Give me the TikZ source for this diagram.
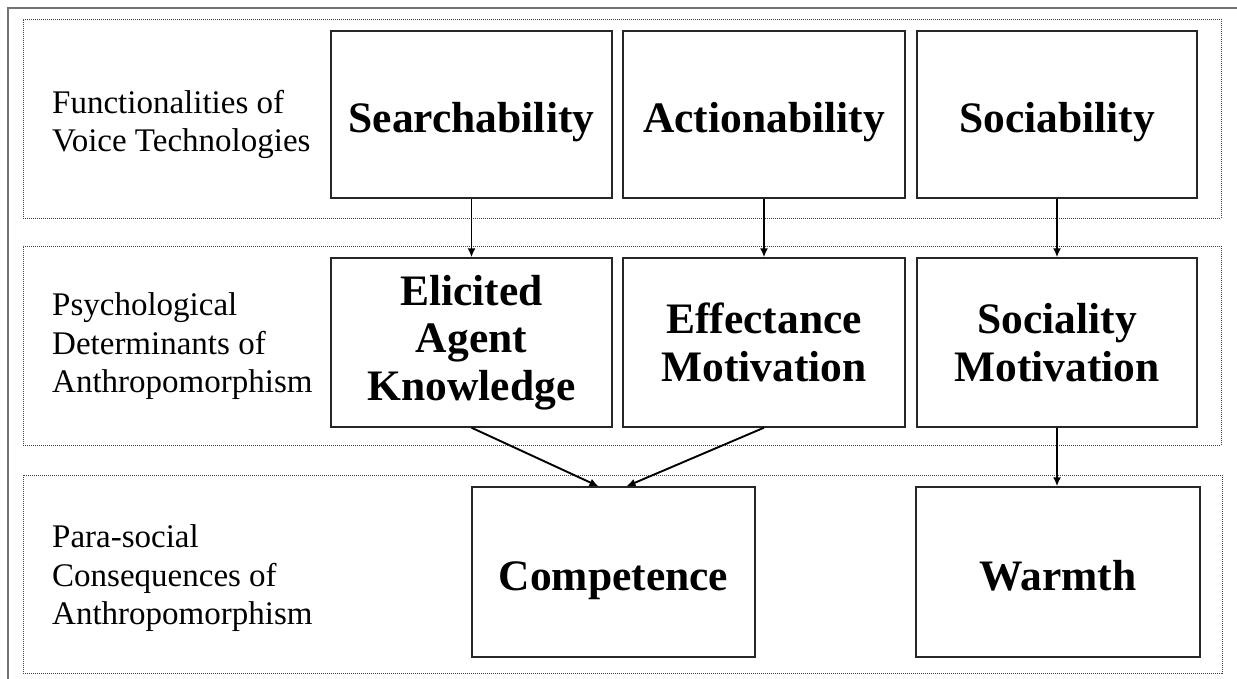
\documentclass[tikz,border=0pt]{standalone}
\usepackage{fontspec}
\setmainfont{Liberation Serif}
\usetikzlibrary{arrows.meta}
\tikzset{
  box/.style={draw=black!85, line width=1.4pt, rectangle, inner sep=2pt, align=center,
    font=\fontsize{43.5}{47.5}\selectfont\bfseries},
  onebox/.style={box, text height=40pt, text depth=4pt},
  frame/.style={draw=black!75, line width=0.8pt, dash pattern=on 1pt off 1pt, rectangle, inner sep=0pt},
  rowlabel/.style={anchor=west, align=left, inner sep=0pt, font=\fontsize{33}{38.5}\selectfont},
  arr/.style={-{Latex[length=9pt,width=8pt]}, line width=1.9pt, black},
  outer/.style={draw=black!55, line width=1.5pt}
}
\begin{document}
\begin{tikzpicture}[x=1pt,y=-1pt]
\useasboundingbox (0,0) rectangle (1237,679);
% outer border
\coordinate (ob1) at (8,679);
\coordinate (ob2) at (8,8);
\coordinate (ob3) at (1237,8);
\draw[outer] (ob1) -- (ob2) -- (ob3);
% frames
\node[frame, minimum width=1198pt, minimum height=199pt] (f1) at (622,118.5) {};
\node[frame, minimum width=1198pt, minimum height=199pt] (f2) at (622,345.5) {};
\node[frame, minimum width=1199pt, minimum height=198pt] (f3) at (622.5,574) {};
% row labels
\node[rowlabel] (l1) at (52,124.5) {Functionalities of\\Voice Technologies};
\node[rowlabel] (l2) at (52,346.5) {Psychological\\Determinants of\\Anthropomorphism};
\node[rowlabel] (l3) at (52,578.5) {Para-social\\Consequences of\\Anthropomorphism};
% row 1
\node[onebox, minimum width=281pt, minimum height=167pt] (search) at (471.5,114.5) {Searchability};
\node[onebox, minimum width=282pt, minimum height=167pt] (action) at (764,114.5) {Actionability};
\node[onebox, minimum width=280pt, minimum height=167pt] (social) at (1057,114.5) {Sociability};
% row 2
\node[box, minimum width=281pt, minimum height=169pt] (elicit) at (471.5,342.5) {Elicited\\Agent\\Knowledge};
\node[box, minimum width=282pt, minimum height=169pt] (effect) at (764,342.5) {Effectance\\Motivation};
\node[box, minimum width=280pt, minimum height=169pt] (sociality) at (1057,342.5) {Sociality\\Motivation};
% row 3
\node[onebox, minimum width=283pt, minimum height=170pt] (comp) at (613.5,572) {Competence};
\node[onebox, minimum width=284pt, minimum height=170pt] (warm) at (1058,572) {Warmth};
% arrows
\draw[arr] (search.south) -- (elicit.north);
\draw[arr] (action.south) -- (effect.north);
\draw[arr] (social.south) -- (sociality.north);
\draw[arr] (sociality.south) -- (sociality.south |- warm.north);
\draw[arr] (elicit.south) -- ([xshift=-15pt]comp.north);
\draw[arr] (effect.south) -- ([xshift=13pt]comp.north);
\end{tikzpicture}
\end{document}
